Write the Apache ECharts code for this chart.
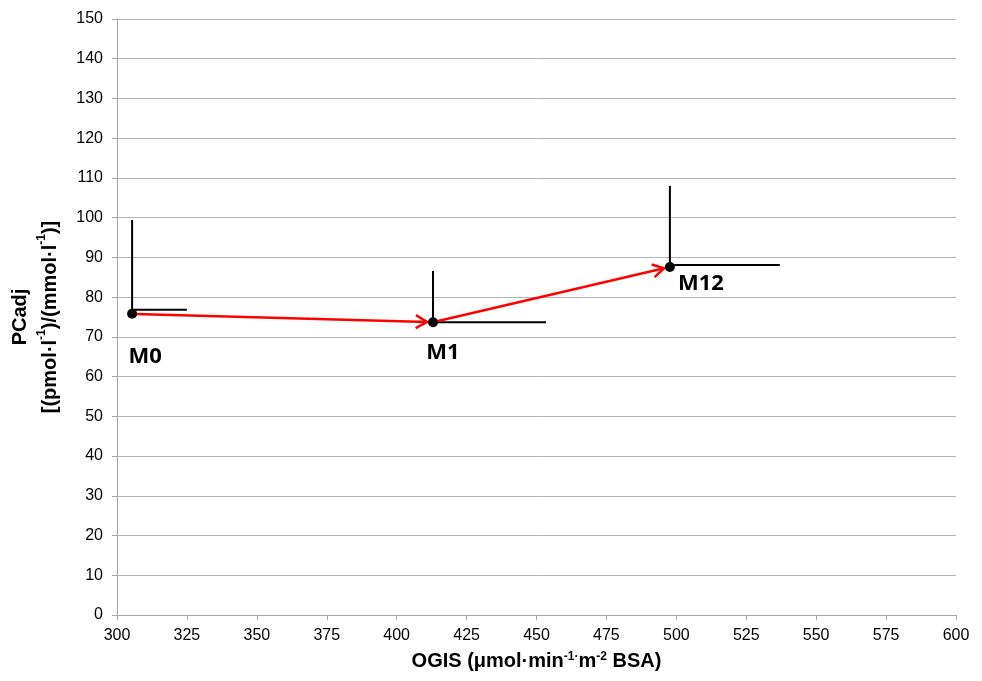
<!DOCTYPE html>
<html>
<head>
<meta charset="utf-8">
<script src="https://cdn.jsdelivr.net/npm/echarts@6/dist/echarts.min.js"></script>
<style>
    html, body { margin: 0; padding: 0; background: #fff; }
    #chart { width: 982px; height: 681px; }
</style>
</head>
<body>
<div id="chart"></div>
<script>
// time points
const visits = ["M0", "M1", "M12"];
// means
const ogis = [305.4, 413.0, 497.7];
const pcadj = [75.8, 73.7, 87.6];
// error bar ends
const pcadjUpper = [99.4, 86.6, 108.0];
const ogisUpper = [325.0, 453.4, 537.0];
const ogisBarLevel = [76.8, 73.7, 88.1];
// axis ticks
const xTicks = [300, 325, 350, 375, 400, 425, 450, 475, 500, 525, 550, 575, 600];
const yTicks = [0, 10, 20, 30, 40, 50, 60, 70, 80, 90, 100, 110, 120, 130, 140, 150];

const font = "'Liberation Sans Narrow', 'Liberation Sans', sans-serif";
const labelOffsets = [[13, 43], [10, 31], [31, 17]];

const state = {
    init: () => {
        const chart = echarts.init(document.querySelector("#chart"));
        chart.setOption(state.option());
    },
    errorBars: (params, api) => {
        const x = api.value(0), y = api.value(1);
        const top = api.coord([x, api.value(2)]);
        const base = api.coord([x, y]);
        const hStart = api.coord([x, api.value(4)]);
        const hEnd = api.coord([api.value(3), api.value(4)]);
        const style = { stroke: "#000", lineWidth: 2 };
        return {
            type: "group",
            children: [
                { type: "line", shape: { x1: base[0], y1: base[1], x2: top[0], y2: top[1] }, style },
                { type: "line", shape: { x1: hStart[0], y1: hStart[1], x2: hEnd[0], y2: hEnd[1] }, style },
            ],
        };
    },
    arrows: (params, api) => {
        const a = api.coord([api.value(0), api.value(1)]);
        const b = api.coord([api.value(2), api.value(3)]);
        const dx = b[0] - a[0], dy = b[1] - a[1];
        const len = Math.sqrt(dx * dx + dy * dy);
        const ux = dx / len, uy = dy / len;
        const s = [a[0] + ux * 3, a[1] + uy * 3];
        const t = [b[0] - ux * 6, b[1] - uy * 6];
        const head = 13, ang = Math.PI / 6;
        const wing = (sign) => {
            const c = Math.cos(sign * ang), sn = Math.sin(sign * ang);
            const rx = -(ux * c - uy * sn), ry = -(ux * sn + uy * c);
            return [t[0] + rx * head, t[1] + ry * head];
        };
        const style = { stroke: "#ff0000", lineWidth: 2.5, fill: null };
        return {
            type: "group",
            children: [
                { type: "line", shape: { x1: s[0], y1: s[1], x2: t[0], y2: t[1] }, style },
                { type: "polyline", shape: { points: [wing(1), t, wing(-1)] }, style },
            ],
        };
    },
    option: () => {
        const sup = { fontSize: 12, fontWeight: "bold", fontFamily: font, color: "#000", verticalAlign: "top", padding: [0, 0, 8, 0] };
        const main = { fontSize: 20, fontWeight: "bold", fontFamily: font, color: "#000" };
        const barData = ogis.map((x, i) => [x, pcadj[i], pcadjUpper[i], ogisUpper[i], ogisBarLevel[i]]);
        const arrowData = [];
        for (let i = 0; i < ogis.length - 1; i++) {
            arrowData.push([ogis[i], pcadj[i], ogis[i + 1], pcadj[i + 1]]);
        }
        return {
            animation: false,
            backgroundColor: "#fff",
            grid: { left: 117, right: 26, top: 19, bottom: 66, outerBoundsMode: "none" },
            xAxis: {
                type: "value",
                min: xTicks[0],
                max: xTicks[xTicks.length - 1],
                interval: 25,
                name: "{m|OGIS (μmol·min}{s|-1·}{m|m}{s|-2}{m| BSA)}",
                nameLocation: "middle",
                nameGap: 36,
                nameTextStyle: { rich: { m: main, s: sup } },
                axisLine: { lineStyle: { color: "#a6a6a6" } },
                axisTick: { show: true, length: 5, lineStyle: { color: "#a6a6a6" } },
                axisLabel: { color: "#000", fontSize: 16, fontFamily: font, margin: 13 },
                splitLine: { show: false },
            },
            yAxis: {
                type: "value",
                min: yTicks[0],
                max: yTicks[yTicks.length - 1],
                interval: 10,
                name: "{m|PCadj}\n{m|[(pmol·l}{s|-1}{m|)/(mmol·l}{s|-1}{m|)]}",
                nameLocation: "middle",
                nameRotate: 90,
                nameGap: 47,
                nameTextStyle: { lineHeight: 30, rich: { m: { ...main, lineHeight: 30 }, s: sup } },
                axisLine: { show: true, lineStyle: { color: "#a6a6a6" } },
                axisTick: { show: true, length: 5, lineStyle: { color: "#a6a6a6" } },
                axisLabel: { color: "#000", fontSize: 16, fontFamily: font, margin: 14 },
                splitLine: { lineStyle: { color: "#b3b3b3", width: 1 } },
            },
            series: [
                {
                    type: "custom",
                    renderItem: state.errorBars,
                    data: barData,
                    z: 2,
                },
                {
                    type: "custom",
                    renderItem: state.arrows,
                    data: arrowData,
                    z: 3,
                },
                {
                    type: "scatter",
                    symbol: "circle",
                    symbolSize: 10,
                    itemStyle: { color: "#000", opacity: 1 },
                    z: 4,
                    data: ogis.map((x, i) => ({
                        value: [x, pcadj[i]],
                        name: visits[i],
                        label: {
                            show: true,
                            formatter: "{b}",
                            position: "inside",
                            offset: labelOffsets[i],
                            color: "#000",
                            fontSize: 22,
                            fontWeight: "bold",
                            fontFamily: "'Open Sans', 'Liberation Sans', sans-serif",
                        },
                    })),
                },
            ],
        };
    },
};
window.addEventListener("load", state.init);
</script>
</body>
</html>
